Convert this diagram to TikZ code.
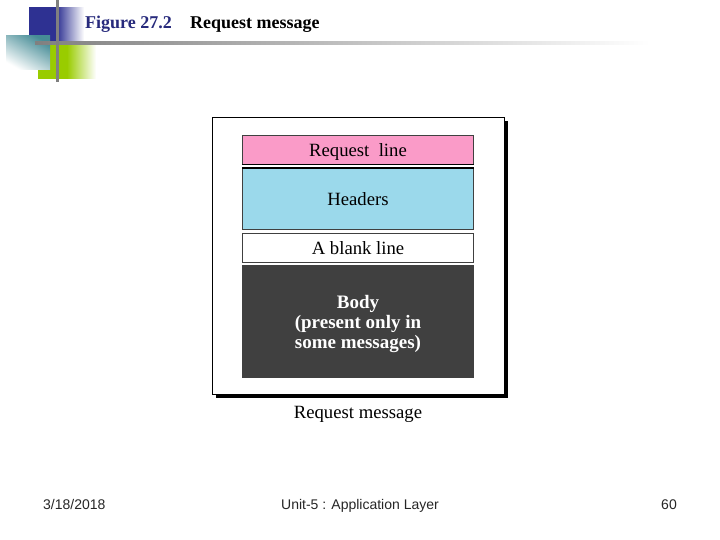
\documentclass[tikz,border=0pt]{standalone}
\usepackage{fontspec}
\setmainfont{Liberation Serif}
\setsansfont{Liberation Sans}
\definecolor{logoblue}{RGB}{46,49,146}
\definecolor{logoteal}{RGB}{70,140,150}
\definecolor{logogreen}{RGB}{153,204,0}
\definecolor{rulegray}{RGB}{128,128,128}
\definecolor{reqpink}{RGB}{250,155,200}
\definecolor{headblue}{RGB}{155,217,235}
\definecolor{bodygray}{RGB}{64,64,64}
\tikzset{
partbox/.style={draw=black!75,line width=.8pt,minimum width=231.5pt,anchor=north,inner sep=0pt,align=center,font=\fontsize{18.7}{20}\selectfont},
footer/.style={inner sep=0pt,font=\sffamily\fontsize{14}{16}\selectfont,text=black!85},
headline/.style={inner sep=0pt,anchor=base west,font=\bfseries\fontsize{18}{20}\selectfont}
}
\begin{document}
\begin{tikzpicture}[x=1pt,y=-1pt]
\useasboundingbox (0,0) rectangle (720,540);
\fill[white] (0,0) rectangle (720,540);
%logo
\shade[left color=logoblue,right color=white,middle color=logoblue] (29,8) rectangle (84,42);
\shade[left color=logogreen,right color=white,middle color=logogreen] (38,44) rectangle (96,79);
\shade[top color=logoteal,bottom color=white,shading angle=-30] (6,36) rectangle (50,70);
\shade[left color=rulegray,right color=white] (35,42) rectangle (650,45);
\fill[rulegray] (56,0) rectangle (58.5,82);
%title
\node[headline,text=logoblue!85!black] (figno) at (85,29) {Figure 27.2};
\node[headline] (figtitle) at (190,29) {Request message};
%frame
\fill[black] (216,121) rectangle (508,398);
\draw[fill=white,line width=.8pt] (212,117) rectangle (504,394);
\node[partbox,fill=reqpink,minimum height=29pt] (reqline) at (358,135) {\raisebox{-7pt}[0pt][0pt]{Request\ \ line}};
\node[partbox,fill=headblue,minimum height=61pt] (headers) at (358,168) {Headers};
\node[partbox,fill=white,minimum height=29pt] (blank) at (358,233) {A blank line};
\node[partbox,fill=bodygray,draw=bodygray,text=white,minimum height=112pt,font=\bfseries\fontsize{19}{20}\selectfont] (body) at (358,265) {\raisebox{-6.5pt}[0pt][0pt]{\parbox{200pt}{\centering Body\\(present only in\\some messages)}}};
\draw[line width=1.4pt] (reqline.south west) -- (reqline.south east);
\draw[line width=1.4pt] (headers.north west) -- (headers.north east);
\node[font=\fontsize{18.7}{20}\selectfont] (caption) at (358,414) {Request message};
%footer
\node[footer,anchor=base west] (date) at (43,509) {3/18/2018};
\node[footer,anchor=base] (unit) at (360,509) {Unit-5 : Application Layer};
\node[footer,anchor=base east] (page) at (677,509) {60};
\end{tikzpicture}
\end{document}
